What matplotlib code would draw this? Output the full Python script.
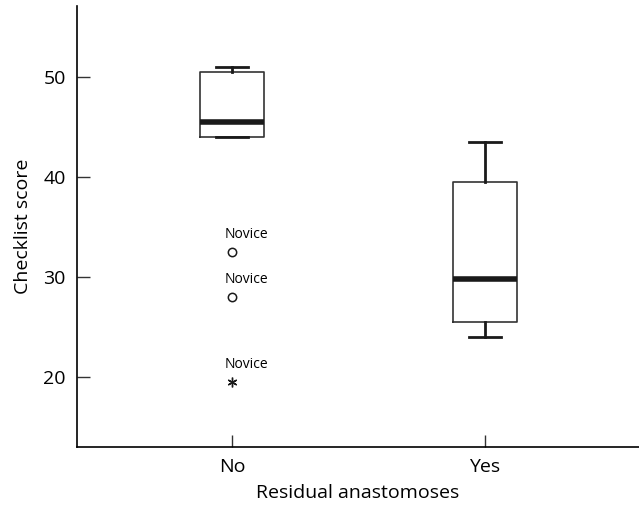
import matplotlib
matplotlib.use("Agg")
from matplotlib import pyplot as plt

plt.rcParams['font.family'] = ['Open Sans', 'DejaVu Sans']

# box summaries per group
groups = ['No', 'Yes']
q1 = [44.0, 25.5]
med = [45.5, 29.8]
q3 = [50.5, 39.5]
whislo = [44.0, 24.0]
whishi = [51.0, 43.5]

# flagged points in the "No" group
out_circle = [32.5, 28.0]
out_star = [19.5]
out_label = 'Novice'

fig = plt.figure(figsize=(6.39, 5.07), dpi=100)
ax = fig.add_axes([77/639, 60/507, 1 - 77/639, 441/507])

stats = []
for i, g in enumerate(groups):
    stats.append(dict(label=g, q1=q1[i], med=med[i], q3=q3[i],
                      whislo=whislo[i], whishi=whishi[i], fliers=[]))

ax.bxp(stats, positions=[1, 2], widths=0.253, showfliers=False,
       boxprops=dict(color='#333333', linewidth=1.2),
       medianprops=dict(color='#1a1a1a', linewidth=4, solid_capstyle='butt'),
       whiskerprops=dict(color='#1a1a1a', linewidth=2),
       capprops=dict(color='#1a1a1a', linewidth=2),
       capwidths=0.128)

ax.plot([1]*len(out_circle), out_circle, linestyle='none', marker='o',
        markersize=6, markerfacecolor='white', markeredgecolor='#1a1a1a',
        markeredgewidth=1.1)
ax.plot([1]*len(out_star), out_star, linestyle='none', marker=(6, 2, 0),
        markersize=7, color='#1a1a1a', markeredgewidth=1.0)
for v in out_circle + out_star:
    ax.text(0.97, v + 1.0, out_label, fontsize=10, ha='left', va='bottom')

ax.set_xlim(0.387, 2.609)
ax.set_ylim(13, 57.1)
ax.set_yticks([20, 30, 40, 50])
ax.set_xticks([1, 2])
ax.set_xticklabels(groups)
ax.spines['top'].set_visible(False)
ax.spines['right'].set_visible(False)
ax.spines['left'].set_linewidth(1.2)
ax.spines['bottom'].set_linewidth(1.2)
ax.tick_params(direction='in', length=9, width=1.0, labelsize=14, color='#333333', pad=8)
ax.set_xlabel('Residual anastomoses', fontsize=14, labelpad=6)
ax.set_ylabel('Checklist score', fontsize=14, labelpad=8)

fig.savefig('out.png', dpi=100)
